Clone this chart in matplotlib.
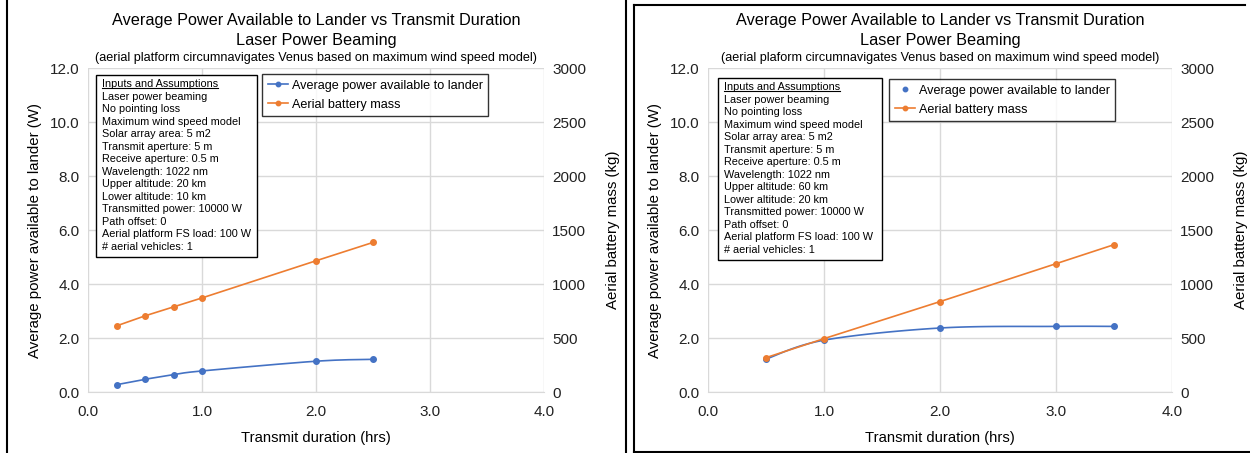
import numpy as np
import matplotlib
matplotlib.use("Agg")
import matplotlib.pyplot as plt
from matplotlib.lines import Line2D

plt.rcParams['font.family'] = ['Liberation Sans', 'DejaVu Sans']

BLUE = '#4472C4'
ORANGE = '#ED7D31'
GRID = '#D9D9D9'

# ---- data: 10-20 km altitude case ----
dur_a = [0.25, 0.5, 0.75, 1.0, 2.0, 2.5]
power_a = [0.27, 0.47, 0.64, 0.78, 1.14, 1.21]
mass_a = [612, 705, 788, 871, 1215, 1385]
upper_a = "20 km"
lower_a = "10 km"
sub_a = "(aerial platform circumnavigates Venus based on maximum wind speed model)"

# ---- data: 20-60 km altitude case ----
dur_b = [0.5, 1.0, 2.0, 3.0, 3.5]
power_b = [1.22, 1.92, 2.37, 2.43, 2.43]
mass_b = [318, 494, 837, 1188, 1364]
upper_b = "60 km"
lower_b = "20 km"
sub_b = "(aerial plaform circumnavigates Venus based on maximum wind speed model)"

title1 = "Average Power Available to Lander vs Transmit Duration"
title2 = "Laser Power Beaming"
x_ticks = [0.0, 1.0, 2.0, 3.0, 4.0]
y_ticks = [0.0, 2.0, 4.0, 6.0, 8.0, 10.0, 12.0]
y2_ticks = [0, 500, 1000, 1500, 2000, 2500, 3000]


def smooth(x, y, n=30):
    """Bezier smoothing through the points (spreadsheet 'smoothed line')."""
    x = np.asarray(x, float)
    y = np.asarray(y, float)
    px = np.concatenate([[x[0]], x, [x[-1]]])
    py = np.concatenate([[y[0]], y, [y[-1]]])
    xs, ys = [], []
    for i in range(1, len(px) - 2):
        p0, p1, p2, p3 = (np.array([px[j], py[j]]) for j in (i - 1, i, i + 1, i + 2))
        c1 = p1 + (p2 - p0) / 6.0
        c2 = p2 - (p3 - p1) / 6.0
        t = np.linspace(0, 1, n)[:, None]
        pts = ((1 - t) ** 3) * p1 + 3 * ((1 - t) ** 2) * t * c1 + 3 * (1 - t) * t ** 2 * c2 + t ** 3 * p2
        xs.extend(pts[:, 0])
        ys.extend(pts[:, 1])
    return xs, ys


def inputs_lines(upper, lower):
    return ["Laser power beaming",
            "No pointing loss",
            "Maximum wind speed model",
            "Solar array area: 5 m2",
            "Transmit aperture: 5 m",
            "Receive aperture: 0.5 m",
            "Wavelength: 1022 nm",
            f"Upper altitude: {upper}",
            f"Lower altitude: {lower}",
            "Transmitted power: 10000 W",
            "Path offset: 0",
            "Aerial platform FS load: 100 W",
            "# aerial vehicles: 1"]


fig = plt.figure(figsize=(12.5, 4.53), dpi=100)
W, H = 1250, 453
AX_TOP, AX_BOT = 68, 392


def panel(left_px, right_px, cx, dur, power, mass, upper, lower, sub,
          blue_line_in_legend, leg_xy, box):
    ax = fig.add_axes([left_px / W, 1 - AX_BOT / H, (right_px - left_px) / W, (AX_BOT - AX_TOP) / H])
    ax2 = ax.twinx()
    ax.set_xlim(0, 4)
    ax.set_ylim(0, 12)
    ax2.set_ylim(0, 3000)
    ax.set_xticks(x_ticks)
    ax.set_xticklabels([f"{v:.1f}" for v in x_ticks])
    ax.set_yticks(y_ticks)
    ax.set_yticklabels([f"{v:.1f}" for v in y_ticks])
    ax2.set_yticks(y2_ticks)
    ax2.set_yticklabels([str(v) for v in y2_ticks])
    for a in (ax, ax2):
        for s in a.spines.values():
            s.set_visible(False)
        a.tick_params(length=0, labelsize=11, colors='#222222', pad=6)
    ax.tick_params(axis='x', pad=9)
    ax.spines['bottom'].set_visible(True)
    ax.spines['bottom'].set_color(GRID)
    ax.grid(True, color=GRID, linewidth=1.0)
    ax.set_axisbelow(True)
    ax.set_xlabel("Transmit duration (hrs)", fontsize=10.6, labelpad=9)
    ax.set_ylabel("Average power available to lander (W)", fontsize=10.8, labelpad=6)
    ax2.set_ylabel("Aerial battery mass (kg)", fontsize=10.8, labelpad=14)

    sx, sy = smooth(dur, power)
    ax.plot(sx, sy, color=BLUE, lw=1.2, zorder=3)
    ax.plot(dur, power, 'o', color=BLUE, ms=4, zorder=4)
    ax2.plot(dur, mass, '-o', color=ORANGE, lw=1.2, ms=4, zorder=3)

    # titles
    fig.text(cx / W, 1 - 21 / H, title1, ha='center', va='center', fontsize=11.7)
    fig.text(cx / W, 1 - 41 / H, title2, ha='center', va='center', fontsize=11.7)
    fig.text(cx / W, 1 - 58 / H, sub, ha='center', va='center', fontsize=9.1)

    # legend
    h1 = Line2D([], [], color=BLUE, lw=1.2 if blue_line_in_legend else 0, marker='o', ms=3.2)
    h2 = Line2D([], [], color=ORANGE, lw=1.2, marker='o', ms=3.2)
    lx, ly = leg_xy
    leg = ax2.legend([h1, h2], ["Average power available to lander", "Aerial battery mass"],
                     loc='upper left',
                     bbox_to_anchor=((lx - left_px) / (right_px - left_px),
                                     (AX_BOT - ly) / (AX_BOT - AX_TOP)),
                     fontsize=9.1, frameon=True, fancybox=False, edgecolor='black',
                     handlelength=1.6, handletextpad=0.3, borderpad=0.45, labelspacing=0.55,
                     borderaxespad=0)
    leg.get_frame().set_linewidth(1.0)

    # inputs box
    bl, bt, br, bb = box
    rect = plt.Rectangle((bl / W, 1 - bb / H), (br - bl) / W, (bb - bt) / H,
                         transform=fig.transFigure, facecolor='white',
                         edgecolor='black', lw=1.0, zorder=2.5)
    fig.add_artist(rect)
    step = (bb - bt - 19) / 13.0
    hdr = fig.text((bl + 6) / W, 1 - (bt + 9) / H, "Inputs and Assumptions",
                   ha='left', va='center', fontsize=7.8, zorder=3)
    for i, line in enumerate(inputs_lines(upper, lower), start=1):
        fig.text((bl + 6) / W, 1 - (bt + 9 + step * i) / H, line,
                 ha='left', va='center', fontsize=7.8, zorder=3)
    return hdr


hdr_a = panel(88, 544, 316, dur_a, power_a, mass_a, upper_a, lower_a, sub_a,
              True, (262, 74), (96, 75, 257, 257))
hdr_b = panel(708, 1172, 940, dur_b, power_b, mass_b, upper_b, lower_b, sub_b,
              False, (889, 79), (718, 78, 882, 260))

# underline the box headers
fig.canvas.draw()
r = fig.canvas.get_renderer()
for h in (hdr_a, hdr_b):
    bbx = h.get_window_extent(r)
    fig.add_artist(Line2D([bbx.x0 / W, bbx.x1 / W], [(bbx.y0 + 1) / H, (bbx.y0 + 1) / H],
                          transform=fig.transFigure, color='black', lw=0.8, zorder=3))


# panel borders
def fline(x0, y0, x1, y1):
    fig.add_artist(Line2D([x0 / W, x1 / W], [1 - y0 / H, 1 - y1 / H],
                          transform=fig.transFigure, color='black', lw=1.5))


fline(7, 0, 7, H)
fline(626, 0, 626, H)
fline(634, 5, 634, 452)
fline(634, 5, 1245, 5)
fline(634, 452, W, 452)

fig.savefig("out.png", dpi=100)
